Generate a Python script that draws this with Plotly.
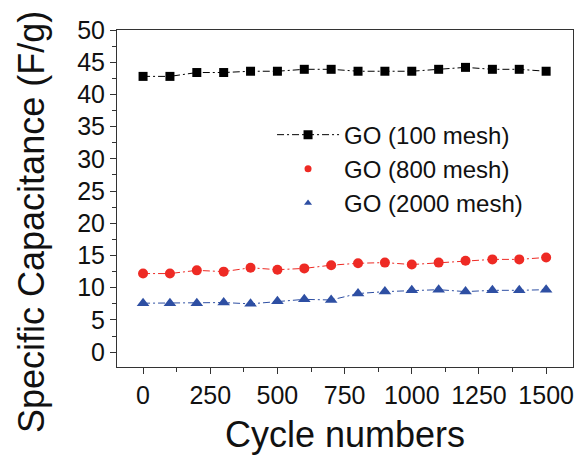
import plotly.graph_objects as go

cycles = [0, 100, 200, 300, 400, 500, 600, 700, 800, 900, 1000, 1100, 1200, 1300, 1400, 1500]
go_100 = [42.8, 42.8, 43.4, 43.4, 43.6, 43.6, 43.9, 43.9, 43.6, 43.6, 43.6, 43.9, 44.2, 43.9, 43.9, 43.6]
go_800 = [12.2, 12.2, 12.7, 12.5, 13.1, 12.8, 13.0, 13.5, 13.8, 13.9, 13.6, 13.9, 14.2, 14.4, 14.4, 14.7]
go_2000 = [7.6, 7.6, 7.6, 7.7, 7.5, 7.9, 8.2, 8.1, 9.1, 9.4, 9.6, 9.7, 9.4, 9.6, 9.6, 9.7]
names = ["GO (100 mesh)", "GO (800 mesh)", "GO (2000 mesh)"]
x_ticks = [0, 250, 500, 750, 1000, 1250, 1500]
y_ticks = [0, 5, 10, 15, 20, 25, 30, 35, 40, 45, 50]
y_title = "Specific Capacitance (F/g)"
x_title = "Cycle numbers"

FONT = "Liberation Sans, Arial, sans-serif"
dash = "7px,3px,2px,3px"
RED = "#ee2a24"
BLUE = "#2e4fa3"

fig = go.Figure()
fig.add_trace(go.Scatter(x=cycles, y=go_100, mode="lines+markers", name=names[0],
                         line=dict(color="black", width=1, dash=dash),
                         marker=dict(symbol="square", size=9, color="black")))
fig.add_trace(go.Scatter(x=cycles, y=go_800, mode="lines+markers", name=names[1], showlegend=False,
                         line=dict(color=RED, width=1, dash=dash),
                         marker=dict(symbol="circle", size=10, color=RED)))
fig.add_trace(go.Scatter(x=cycles, y=go_2000, mode="lines+markers", name=names[2], showlegend=False,
                         line=dict(color=BLUE, width=1, dash=dash),
                         marker=dict(symbol="triangle-up", size=11, color=BLUE)))
# legend-only entries (marker symbol only, as in the reference legend)
fig.add_trace(go.Scatter(x=[None], y=[None], mode="markers", name=names[1],
                         marker=dict(symbol="circle", size=7, color=RED)))
fig.add_trace(go.Scatter(x=[None], y=[None], mode="markers", name=names[2],
                         marker=dict(symbol="triangle-up", size=7, color=BLUE)))

axis_common = dict(showline=True, linecolor="#333", linewidth=1, mirror=True,
                   ticks="outside", ticklen=6, tickcolor="#333", showgrid=False, zeroline=False,
                   tickfont=dict(family=FONT, size=25, color="#111"))

fig.update_xaxes(range=[-97, 1600], tickvals=x_ticks,
                 minor=dict(ticks="outside", ticklen=4, dtick=125, tick0=0, tickcolor="#333"),
                 title=dict(text=x_title, font=dict(family=FONT, size=36, color="#111"), standoff=14),
                 **axis_common)
fig.update_yaxes(range=[-2.3, 50], tickvals=y_ticks,
                 minor=dict(ticks="outside", ticklen=4, dtick=2.5, tick0=0, tickcolor="#333"),
                 **axis_common)

# y-axis title placed as a rotated annotation (centred lower than the plot middle, as in the reference)
fig.add_annotation(text=y_title, textangle=-90, xref="paper", yref="paper",
                   x=-117 / 456 + 31 / 456, y=(367 - 222) / 337, xanchor="center", yanchor="middle",
                   showarrow=False, font=dict(family=FONT, size=36, color="#111"))

fig.update_layout(
    width=575, height=455,
    margin=dict(l=117, r=2, t=30, b=88),
    plot_bgcolor="white", paper_bgcolor="white",
    legend=dict(x=0.34, y=0.755, xanchor="left", yanchor="top", bgcolor="rgba(0,0,0,0)",
                font=dict(family=FONT, size=24, color="#111"), tracegroupgap=0,
                itemwidth=62),
    showlegend=True,
)

fig.write_html("out.html")
